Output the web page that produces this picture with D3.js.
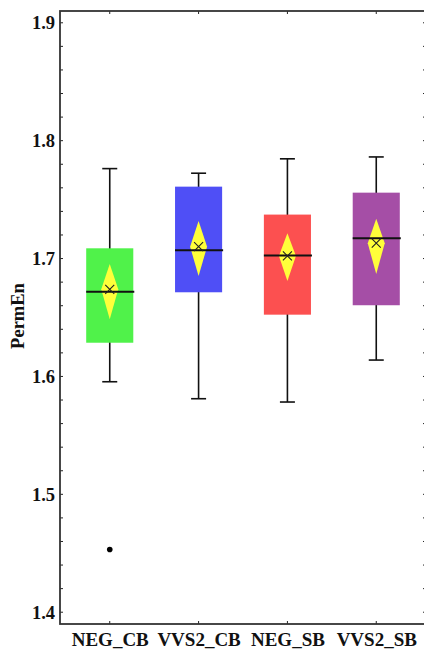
<!DOCTYPE html>
<html>
<head>
<meta charset="utf-8">
<script src="https://cdn.jsdelivr.net/npm/d3@7"></script>
<style>
  html, body { margin: 0; padding: 0; background: #fff; }
  svg { display: block; }
  text { font-family: "Liberation Serif", "Times New Roman", serif; font-weight: bold; fill: #111; }
</style>
</head>
<body>
<div id="chart"></div>
<script>
// Values.
const categories = ['NEG_CB', 'VVS2_CB', 'NEG_SB', 'VVS2_SB'];
const whiskerLow = [1.5955, 1.5811, 1.5783, 1.6139];
const q1 = [1.6286, 1.6714, 1.6524, 1.6604];
const median = [1.6719, 1.7070, 1.7025, 1.7172];
const q3 = [1.7087, 1.7610, 1.7373, 1.7559];
const whiskerHigh = [1.7763, 1.7724, 1.7846, 1.7862];
const means = [1.6739, 1.7101, 1.7022, 1.7130];
const ciLow = [1.6485, 1.6852, 1.6810, 1.6869];
const ciHigh = [1.6954, 1.7319, 1.7215, 1.7337];
const outlierCats = ['NEG_CB'];
const outlierValues = [1.4532];
const boxColors = ['#50f24a', '#4f4ff6', '#fc5050', '#a54ea6'];
const yTicks = [1.4, 1.5, 1.6, 1.7, 1.8, 1.9];
const yLabel = 'PermEn';

const W = 424, H = 653;
const margin = { top: 11, right: -2, bottom: 29, left: 60 };
const width = W - margin.left - margin.right;
const height = H - margin.top - margin.bottom;

const svg = d3.select('#chart').append('svg')
  .attr('width', W).attr('height', H);

const g = svg.append('g')
  .attr('transform', `translate(${margin.left},${margin.top})`);

const x = d3.scalePoint().domain(categories).range([0, width]).padding(0.56);
const y = d3.scaleLinear().domain([1.39, 1.91]).range([height, 0]);

const step = x.step();
const boxW = step * 0.53;
const capW = 15;
const diaW = 8.5;

// Minor ticks every 0.02
const minorTicks = d3.range(1.40, 1.91, 0.02).map(v => +v.toFixed(2));

// Left axis
const yAxis = d3.axisLeft(y).tickValues(yTicks).tickFormat(d3.format('.1f')).tickSize(0).tickPadding(5);
const yAx = g.append('g').call(yAxis);
yAx.select('.domain').remove();
yAx.selectAll('text').style('font-size', '18.5px');

// inward ticks left/right
g.selectAll('line.ytick').data(minorTicks).enter().append('line')
  .attr('x1', 0).attr('x2', 3)
  .attr('y1', d => y(d)).attr('y2', d => y(d))
  .attr('stroke', '#222').attr('stroke-width', 1);
g.selectAll('line.ytickR').data(minorTicks).enter().append('line')
  .attr('x1', width).attr('x2', width - 3)
  .attr('y1', d => y(d)).attr('y2', d => y(d))
  .attr('stroke', '#222').attr('stroke-width', 1);

// top/bottom inward ticks
categories.forEach(c => {
  g.append('line').attr('x1', x(c)).attr('x2', x(c)).attr('y1', height).attr('y2', height - 3)
    .attr('stroke', '#222').attr('stroke-width', 1);
  g.append('line').attr('x1', x(c)).attr('x2', x(c)).attr('y1', 0).attr('y2', 3)
    .attr('stroke', '#222').attr('stroke-width', 1);
});

// Bottom axis labels
const xAxis = d3.axisBottom(x).tickSize(0).tickPadding(9);
const xAx = g.append('g').attr('transform', `translate(0,${height})`).call(xAxis);
xAx.select('.domain').remove();
xAx.selectAll('text').style('font-size', '19px');

// Boxes
const boxes = g.selectAll('g.box').data(categories).enter().append('g').attr('class', 'box');

boxes.append('line')
  .attr('x1', d => x(d)).attr('x2', d => x(d))
  .attr('y1', (d, i) => y(whiskerLow[i])).attr('y2', (d, i) => y(whiskerHigh[i]))
  .attr('stroke', '#111').attr('stroke-width', 1.6);
boxes.append('line')
  .attr('x1', d => x(d) - capW / 2).attr('x2', d => x(d) + capW / 2)
  .attr('y1', (d, i) => y(whiskerHigh[i])).attr('y2', (d, i) => y(whiskerHigh[i]))
  .attr('stroke', '#111').attr('stroke-width', 1.6);
boxes.append('line')
  .attr('x1', d => x(d) - capW / 2).attr('x2', d => x(d) + capW / 2)
  .attr('y1', (d, i) => y(whiskerLow[i])).attr('y2', (d, i) => y(whiskerLow[i]))
  .attr('stroke', '#111').attr('stroke-width', 1.6);

boxes.append('rect')
  .attr('x', d => x(d) - boxW / 2).attr('width', boxW)
  .attr('y', (d, i) => y(q3[i])).attr('height', (d, i) => y(q1[i]) - y(q3[i]))
  .attr('fill', (d, i) => boxColors[i]);

boxes.append('path')
  .attr('d', (d, i) => {
    const cx = x(d), cy = y(means[i]);
    return `M${cx},${y(ciHigh[i])}L${cx + diaW},${cy}L${cx},${y(ciLow[i])}L${cx - diaW},${cy}Z`;
  })
  .attr('fill', '#ffff3a');

boxes.append('line')
  .attr('x1', d => x(d) - boxW / 2).attr('x2', d => x(d) + boxW / 2 + 1)
  .attr('y1', (d, i) => y(median[i])).attr('y2', (d, i) => y(median[i]))
  .attr('stroke', '#111').attr('stroke-width', 2);

// mean markers
boxes.append('path')
  .attr('d', (d, i) => {
    const cx = x(d), cy = y(means[i]), s = 4.5;
    return `M${cx - s},${cy - s}L${cx + s},${cy + s}M${cx - s},${cy + s}L${cx + s},${cy - s}`;
  })
  .attr('stroke', '#222').attr('stroke-width', 1.1).attr('fill', 'none');

// outliers
g.selectAll('circle.outlier').data(outlierValues).enter().append('circle')
  .attr('cx', (d, i) => x(outlierCats[i])).attr('cy', d => y(d))
  .attr('r', 2.8).attr('fill', '#000');

// Frame
g.append('rect').attr('x', 0).attr('y', 0).attr('width', width).attr('height', height)
  .attr('fill', 'none').attr('stroke', '#333').attr('stroke-width', 1.8);

// Y label
svg.append('text')
  .attr('transform', `translate(24,${316}) rotate(-90)`)
  .attr('text-anchor', 'middle')
  .style('font-size', '18.5px')
  .text(yLabel);
</script>
</body>
</html>
